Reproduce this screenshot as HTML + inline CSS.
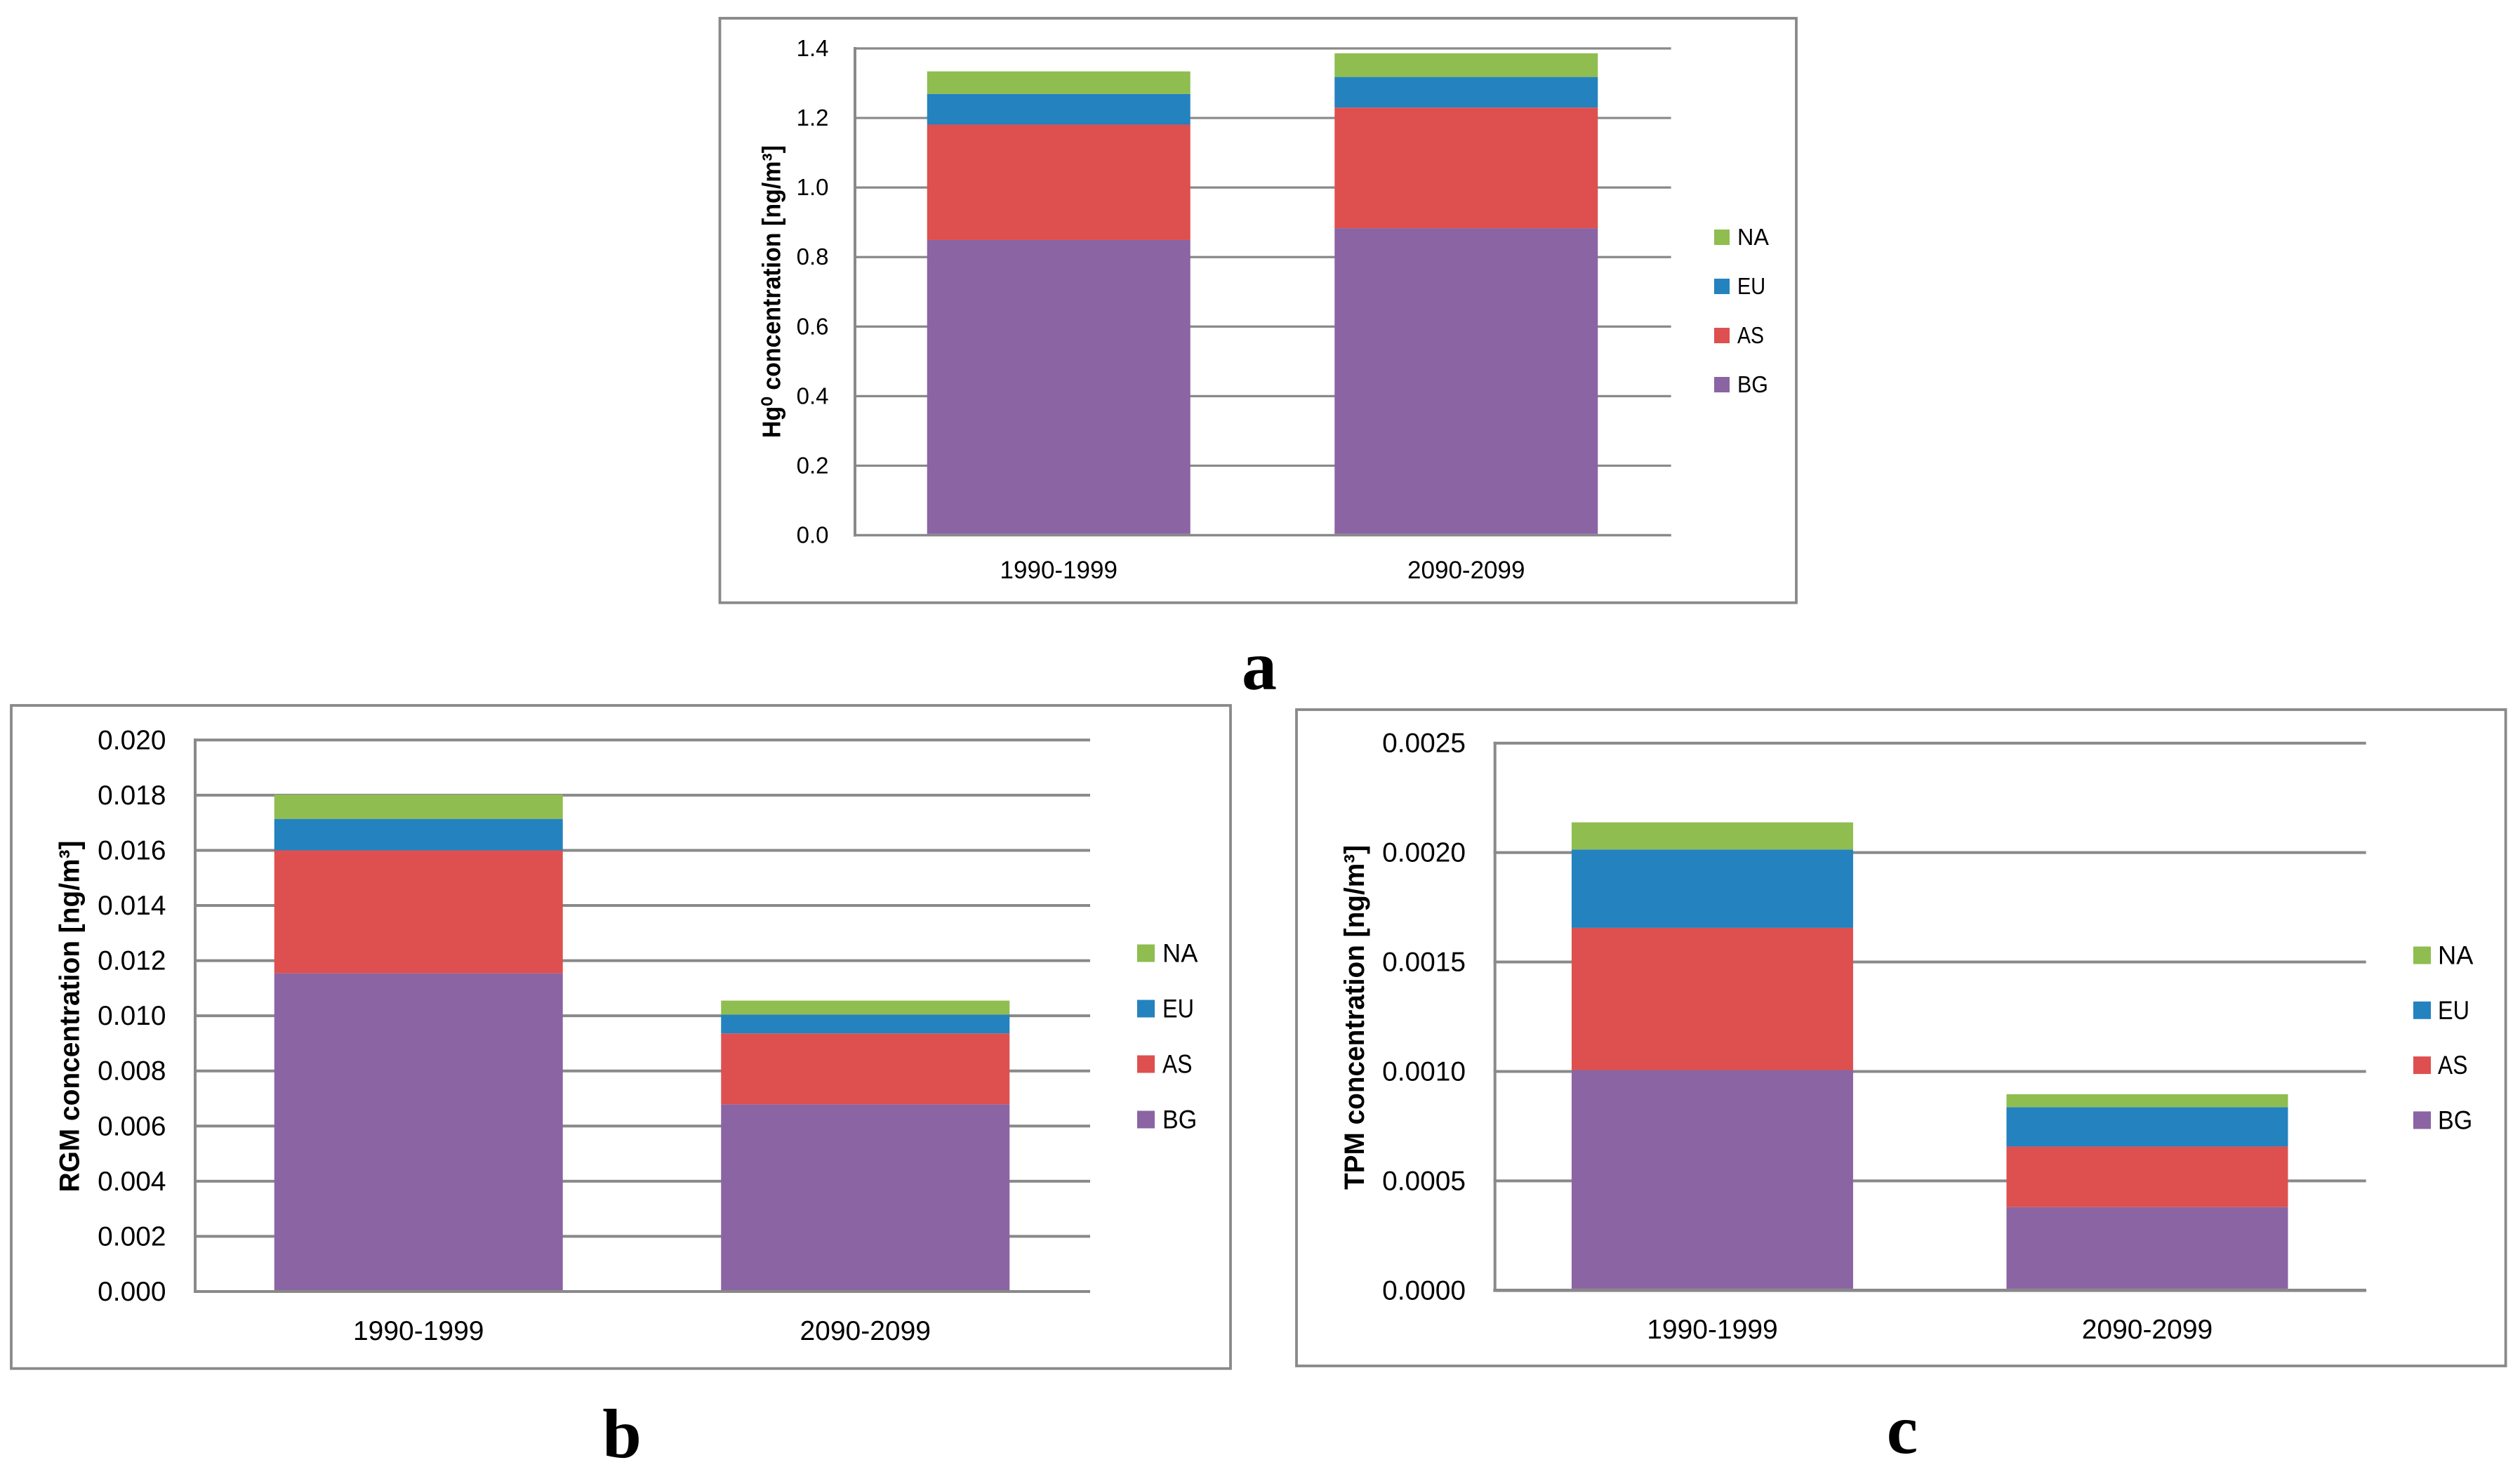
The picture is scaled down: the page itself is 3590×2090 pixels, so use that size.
<!DOCTYPE html>
<html lang="en">
<head>
<meta charset="utf-8">
<title>Mercury concentration by source region</title>
<style>
  html, body { margin: 0; padding: 0; background: #ffffff; }
  svg { display: block; }
  text { font-family: "Liberation Sans", sans-serif; fill: #000000; }
  .panel-letter { font-family: "Liberation Serif", serif; font-weight: 700; font-size: 100px; text-anchor: middle; }
</style>
</head>
<body>
<svg id="figure" xmlns="http://www.w3.org/2000/svg" width="3590" height="2090" viewBox="0 0 3590 2090">
  <rect x="0" y="0" width="3590" height="2090" fill="#ffffff"/>
  <text class="panel-letter" x="1794" y="982">a</text>
  <text class="panel-letter" x="886" y="2076">b</text>
  <text class="panel-letter" x="2710" y="2070">c</text>
</svg>
<script>
// ---- Shared data ----
const categories = ['1990-1999', '2090-2099'];
const seriesNames = ['BG', 'AS', 'EU', 'NA'];

// ---- Panel a: Hg0 (values are per-source stack heights) ----
const hgTicks = ['0.0', '0.2', '0.4', '0.6', '0.8', '1.0', '1.2', '1.4'];
const hgBG = [0.849, 0.883];
const hgAS = [0.332, 0.347];
const hgEU = [0.088, 0.088];
const hgNA = [0.065, 0.068];

// ---- Panel b: RGM ----
const rgmTicks = ['0.000', '0.002', '0.004', '0.006', '0.008', '0.010', '0.012', '0.014', '0.016', '0.018', '0.020'];
const rgmBG = [0.01154, 0.00679];
const rgmAS = [0.00446, 0.00257];
const rgmEU = [0.00114, 0.00068];
const rgmNA = [0.00088, 0.00051];

// ---- Panel c: TPM ----
const tpmTicks = ['0.0000', '0.0005', '0.0010', '0.0015', '0.0020', '0.0025'];
const tpmBG = [0.001006, 0.000380];
const tpmAS = [0.000650, 0.000277];
const tpmEU = [0.000358, 0.000180];
const tpmNA = [0.000124, 0.000059];

const seriesColors = { BG: '#8B64A3', AS: '#DD504F', EU: '#2482BF', NA: '#8FBD50' };
const legendStretch = { BG: 0.92, AS: 0.86, EU: 0.875, NA: 0.98 };
const lineColor = '#898989';
const SVG_NS = 'http://www.w3.org/2000/svg';
const figure = document.getElementById('figure');

function addRect(parent, name, x, y, w, h, fill, stroke, strokeWidth) {
  const el = document.createElementNS(SVG_NS, 'rect');
  
  
  el.setAttribute('x', x);
  el.setAttribute('y', y);
  el.setAttribute('width', w);
  el.setAttribute('height', h);
  el.setAttribute('fill', fill);
  if (stroke) {
    el.setAttribute('stroke', stroke);
    el.setAttribute('stroke-width', strokeWidth);
  }
  parent.appendChild(el);
  return el;
}

function addLine(parent, name, x1, y1, x2, y2, width) {
  const el = document.createElementNS(SVG_NS, 'line');
  
  
  el.setAttribute('x1', x1);
  el.setAttribute('y1', y1);
  el.setAttribute('x2', x2);
  el.setAttribute('y2', y2);
  el.setAttribute('stroke', lineColor);
  el.setAttribute('stroke-width', width);
  el.setAttribute('stroke-linecap', 'square');
  parent.appendChild(el);
  return el;
}

function addText(parent, name, str, x, y, size, anchor, stretch) {
  const el = document.createElementNS(SVG_NS, 'text');
  
  
  el.setAttribute('x', x);
  el.setAttribute('y', y);
  el.setAttribute('font-size', size);
  el.setAttribute('text-anchor', anchor);
  el.textContent = str;
  parent.appendChild(el);
  if (stretch && stretch !== 1) {
    el.setAttribute('textLength', (el.getComputedTextLength() * stretch).toFixed(1));
    el.setAttribute('lengthAdjust', 'spacingAndGlyphs');
  }
  return el;
}

function drawPanel(p) {
  const g = document.createElementNS(SVG_NS, 'g');
  
  
  figure.appendChild(g);

  addRect(g, p.id + '-chart-frame', p.box.l, p.box.t, p.box.r - p.box.l, p.box.b - p.box.t, '#ffffff', lineColor, 3.8);

  const yMax = Number(p.ticks[p.ticks.length - 1]);
  const yScale = function (v) { return p.plot.b - (v / yMax) * (p.plot.b - p.plot.t); };
  const band = (p.plot.r - p.plot.l) / categories.length;
  const xCenter = function (i) { return p.plot.l + band * (i + 0.5); };

  // gridlines and tick labels
  p.ticks.forEach(function (label) {
    const value = Number(label);
    const y = yScale(value);
    const width = value === 0 ? p.baseWidth : p.gridWidth;
    addLine(g, p.id + '-gridline-' + label, p.plot.l, y, p.plot.r, y, width);
    addText(g, p.id + '-y-tick-' + label, label, p.tickRight, y + p.tickDy, p.tickSize, 'end', p.tickStretch);
  });

  // y axis
  addLine(g, p.id + '-y-axis', p.plot.l, p.plot.t, p.plot.l, p.plot.b, 4);

  // stacked bars
  categories.forEach(function (cat, i) {
    let running = 0;
    seriesNames.forEach(function (name) {
      const v = p.values[name][i];
      const top = yScale(running + v);
      const bottom = yScale(running);
      const barBottom = running === 0 ? bottom - p.baseWidth / 2 : bottom;
      addRect(g, p.id + '-bar-' + cat + '-' + name, xCenter(i) - p.barWidth / 2, top, p.barWidth, barBottom - top, seriesColors[name]);
      running += v;
    });
    addText(g, p.id + '-x-label-' + cat, cat, xCenter(i), p.catBaseline, p.catSize, 'middle', 1);
  });

  // legend, NA on top
  seriesNames.slice().reverse().forEach(function (name, i) {
    const cy = p.legend.y + i * p.legend.step;
    const s = p.legend.swatch;
    addRect(g, p.id + '-legend-swatch-' + name, p.legend.x, cy - s / 2, s, s, seriesColors[name]);
    addText(g, p.id + '-legend-label-' + name, name, p.legend.textX, cy + s / 2, p.legend.size, 'start', legendStretch[name]);
  });

  // y axis title
  const title = addText(g, p.id + '-y-axis-title', p.title, 0, 0, p.titleSize, 'start', 1);
  title.setAttribute('font-weight', '700');
  title.setAttribute('transform', 'translate(' + p.titleX + ' ' + p.titleBottom + ') rotate(-90)');
  title.setAttribute('textLength', p.titleLength);
  title.setAttribute('lengthAdjust', 'spacingAndGlyphs');
}

drawPanel({
  id: 'hg', title: 'Hg\u2070 concentration [ng/m\u00B3]',
  ticks: hgTicks, values: { BG: hgBG, AS: hgAS, EU: hgEU, NA: hgNA },
  box: { l: 1025.5, t: 26, r: 2559, b: 858.7 },
  plot: { l: 1218, t: 69, r: 2379, b: 762.5 },
  gridWidth: 3.2, baseWidth: 3.5,
  barWidth: 375, tickRight: 1180.5, tickDy: 11, tickSize: 33, tickStretch: 1,
  catBaseline: 824, catSize: 35,
  legend: { x: 2442, y: 338, step: 70, swatch: 22, textX: 2475, size: 33 },
  titleX: 1111.7, titleBottom: 624, titleLength: 417, titleSize: 36
});

drawPanel({
  id: 'rgm', title: 'RGM concentration [ng/m\u00B3]',
  ticks: rgmTicks, values: { BG: rgmBG, AS: rgmAS, EU: rgmEU, NA: rgmNA },
  box: { l: 16, t: 1005, r: 1753, b: 1949.7 },
  plot: { l: 278, t: 1054.3, r: 1551, b: 1840 },
  gridWidth: 4, baseWidth: 4,
  barWidth: 411, tickRight: 236.5, tickDy: 13, tickSize: 38.5, tickStretch: 1.01,
  catBaseline: 1909, catSize: 39,
  legend: { x: 1620, y: 1358, step: 79, swatch: 25, textX: 1656, size: 37 },
  titleX: 112.5, titleBottom: 1698.5, titleLength: 501, titleSize: 40
});

drawPanel({
  id: 'tpm', title: 'TPM concentration [ng/m\u00B3]',
  ticks: tpmTicks, values: { BG: tpmBG, AS: tpmAS, EU: tpmEU, NA: tpmNA },
  box: { l: 1847, t: 1011, r: 3569.6, b: 1946 },
  plot: { l: 2129.7, t: 1058.7, r: 3368.7, b: 1838.3 },
  gridWidth: 4, baseWidth: 4.7,
  barWidth: 401, tickRight: 2088, tickDy: 13, tickSize: 38.5, tickStretch: 1.01,
  catBaseline: 1907, catSize: 39,
  legend: { x: 3438, y: 1361, step: 78.3, swatch: 25, textX: 3473, size: 37 },
  titleX: 1943, titleBottom: 1695, titleLength: 491, titleSize: 40
});
</script>
</body>
</html>
